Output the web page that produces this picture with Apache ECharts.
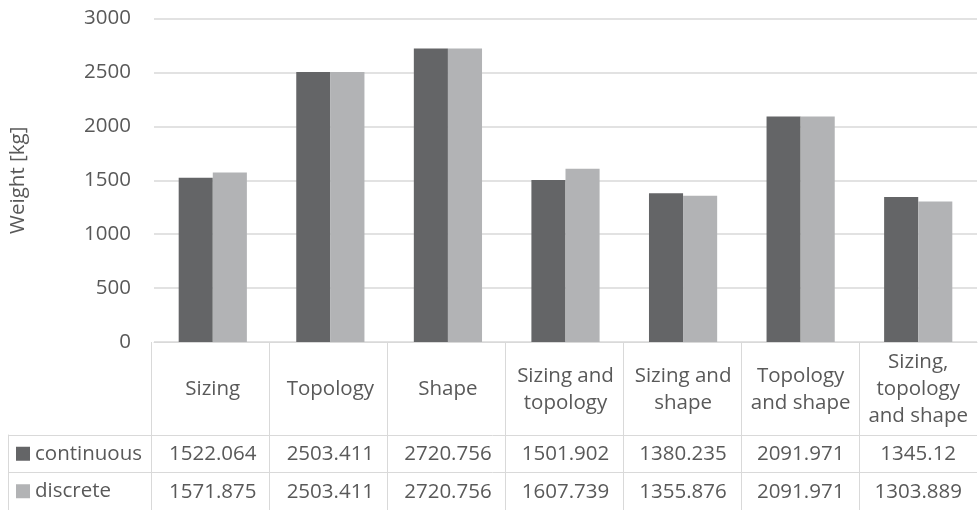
<!DOCTYPE html>
<html>
<head>
<meta charset="utf-8">
<script src="https://cdn.jsdelivr.net/npm/echarts@6/dist/echarts.min.js"></script>
<style>
  html, body { margin: 0; padding: 0; background: #fff; }
  #chart { width: 979px; height: 510px; }
</style>
</head>
<body>
<div id="chart"></div>
<script>
// chart data
const categories = ['Sizing', 'Topology', 'Shape', 'Sizing and\ntopology', 'Sizing and\nshape', 'Topology\nand shape', 'Sizing,\ntopology\nand shape']
const continuous = [1522.064, 2503.411, 2720.756, 1501.902, 1380.235, 2091.971, 1345.12]
const discrete = [1571.875, 2503.411, 2720.756, 1607.739, 1355.876, 2091.971, 1303.889]
const seriesNames = ['continuous', 'discrete']
const yTicks = [0, 500, 1000, 1500, 2000, 2500, 3000]

const colors = ['#646567', '#b2b3b5']
const textColor = '#595959'
const lineColor = '#d9d9d9'
const font = '"Open Sans", sans-serif'
const fontSize = 20.5

const chart = echarts.init(document.getElementById('chart'))

// data table rows are extra category axes under the plot
const rowAxis = (values, margin) => ({
  type: 'category',
  gridIndex: 0,
  data: categories,
  position: 'bottom',
  axisLine: { show: false },
  axisTick: { show: false },
  axisLabel: {
    interval: 0,
    margin: margin,
    verticalAlign: 'middle',
    color: textColor,
    fontFamily: font,
    fontSize: fontSize,
    formatter: (v, i) => String(values[i])
  }
})

chart.setOption({
  animation: false,
  grid: [
    { left: 151, right: 2, top: 18.5, height: 323.5 },
    { left: 151, right: 2, top: 342, height: 170 },
    { left: 8, right: 2, top: 435, height: 76 }
  ],
  xAxis: [
    {
      type: 'category',
      gridIndex: 0,
      data: categories,
      axisLine: { lineStyle: { color: lineColor, width: 1 } },
      axisTick: { show: false },
      axisLabel: {
        interval: 0,
        margin: 47.5,
        verticalAlign: 'middle',
        lineHeight: 27,
        color: textColor,
        fontFamily: font,
        fontSize: fontSize
      }
    },
    rowAxis(continuous, 112.5),
    rowAxis(discrete, 150),
    {
      type: 'category',
      gridIndex: 1,
      data: categories,
      axisLine: { show: false },
      axisTick: { show: false },
      axisLabel: { show: false },
      splitLine: { show: true, showMaxLine: false, lineStyle: { color: lineColor, width: 1 } }
    },
    { type: 'value', gridIndex: 2, show: false }
  ],
  yAxis: [
    {
      type: 'value',
      gridIndex: 0,
      min: yTicks[0],
      max: yTicks[yTicks.length - 1],
      interval: 500,
      name: 'Weight [kg]',
      nameLocation: 'middle',
      nameGap: 125,
      nameTextStyle: { color: textColor, fontFamily: font, fontSize: fontSize },
      axisLine: { show: false },
      axisTick: { show: false },
      axisLabel: {
        margin: 23,
        color: textColor,
        fontFamily: font,
        fontSize: fontSize,
        formatter: v => String(v)
      },
      splitLine: { lineStyle: { color: lineColor, width: 1.5 } }
    },
    { type: 'value', gridIndex: 1, show: false },
    {
      // legend keys column of the data table
      type: 'category',
      gridIndex: 2,
      inverse: true,
      data: seriesNames,
      axisLine: { show: true, lineStyle: { color: lineColor, width: 1 } },
      axisTick: { show: false },
      axisLabel: {
        inside: true,
        margin: 8,
        align: 'left',
        verticalAlign: 'middle',
        color: textColor,
        fontFamily: font,
        fontSize: fontSize,
        formatter: (v, i) => '{k' + i + '|}{gap|}' + v,
        rich: {
          k0: { backgroundColor: colors[0], width: 14, height: 14, padding: 0 },
          k1: { backgroundColor: colors[1], width: 14, height: 14, padding: 0 },
          gap: { width: 5 }
        }
      },
      splitLine: { show: true, lineStyle: { color: lineColor, width: 1 } }
    }
  ],
  series: [
    {
      name: seriesNames[0],
      type: 'bar',
      xAxisIndex: 0,
      yAxisIndex: 0,
      data: continuous,
      barGap: '0%',
      barCategoryGap: '42%',
      itemStyle: { color: colors[0] }
    },
    {
      name: seriesNames[1],
      type: 'bar',
      xAxisIndex: 0,
      yAxisIndex: 0,
      data: discrete,
      barGap: '0%',
      barCategoryGap: '42%',
      itemStyle: { color: colors[1] }
    }
  ]
})
</script>
</body>
</html>
